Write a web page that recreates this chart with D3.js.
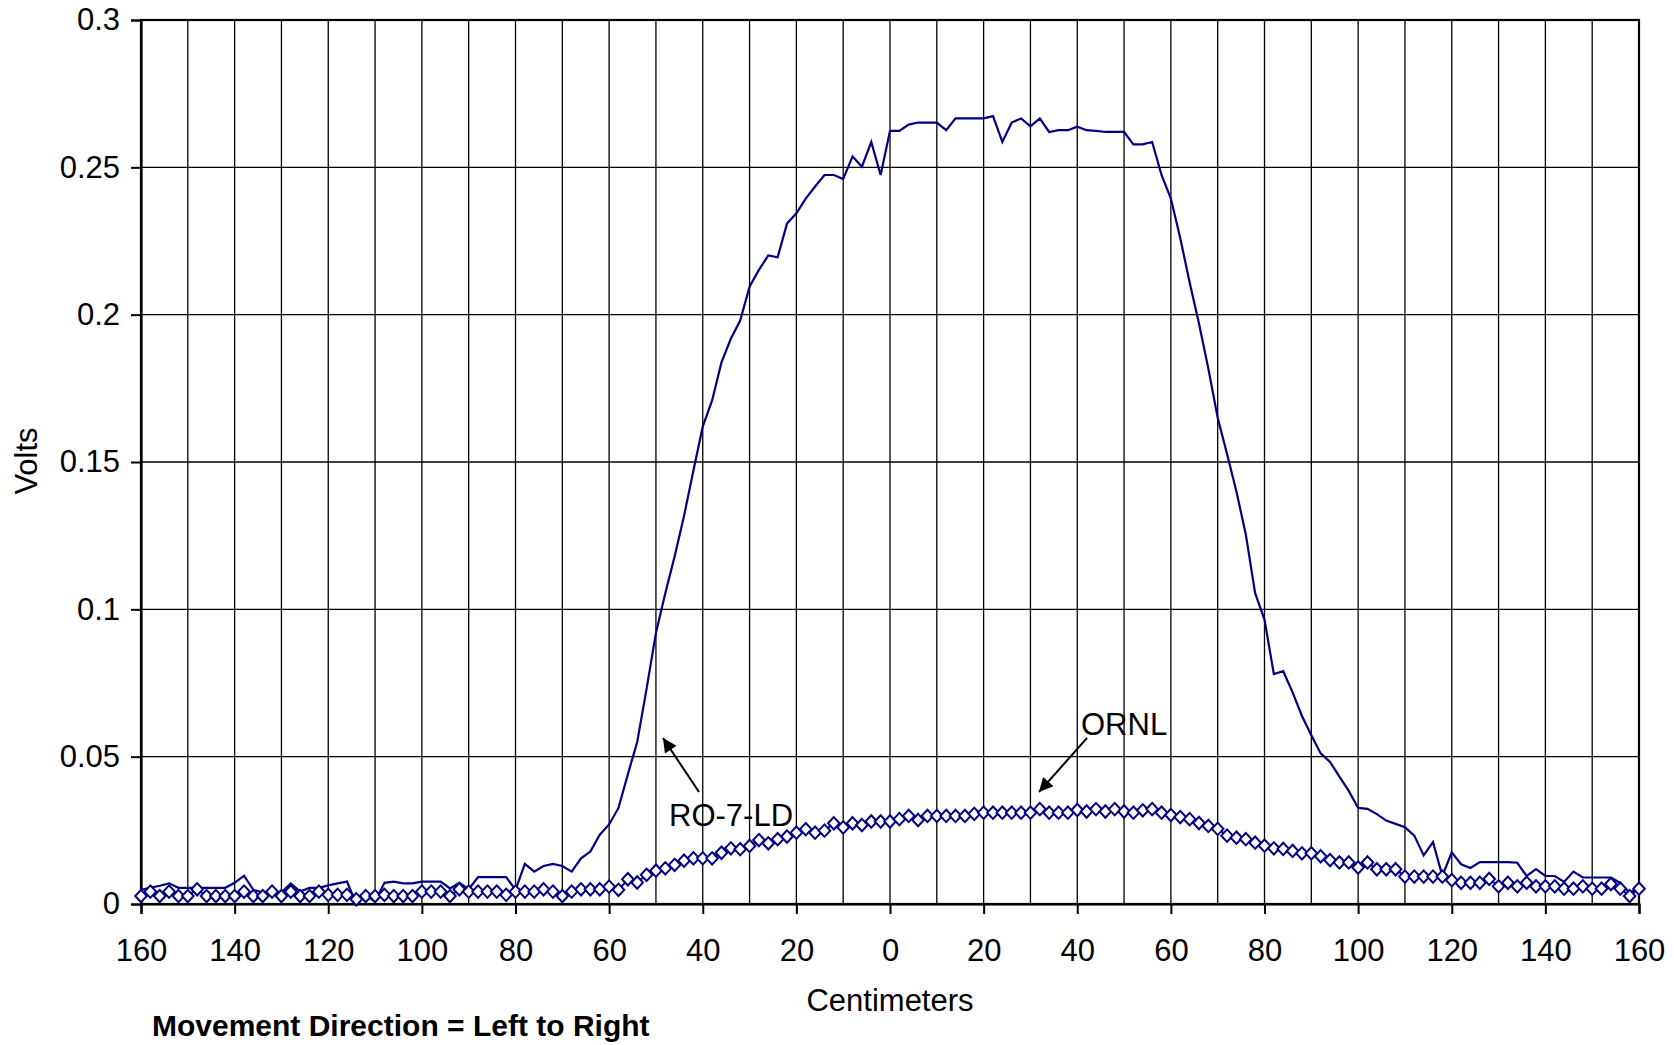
<!DOCTYPE html>
<html><head><meta charset="utf-8">
<script src="https://cdn.jsdelivr.net/npm/d3@7"></script>
<style>
body{margin:0;background:#fff}
svg text{font-family:"Liberation Sans",Arial,sans-serif;fill:#000}
</style>
</head><body>
<svg id="chart" width="1674" height="1045"></svg>
<script>
// ---- data ----
const positions = [
 -160,-158,-156,-154,-152,-150,-148,-146,-144,-142,
 -140,-138,-136,-134,-132,-130,-128,-126,-124,-122,
 -120,-118,-116,-114,-112,-110,-108,-106,-104,-102,
 -100,-98,-96,-94,-92,-90,-88,-86,-84,-82,
 -80,-78,-76,-74,-72,-70,-68,-66,-64,-62,
 -60,-58,-56,-54,-52,-50,-48,-46,-44,-42,
 -40,-38,-36,-34,-32,-30,-28,-26,-24,-22,
 -20,-18,-16,-14,-12,-10,-8,-6,-4,-2,
 0,2,4,6,8,10,12,14,16,18,
 20,22,24,26,28,30,32,34,36,38,
 40,42,44,46,48,50,52,54,56,58,
 60,62,64,66,68,70,72,74,76,78,
 80,82,84,86,88,90,92,94,96,98,
 100,102,104,106,108,110,112,114,116,118,
 120,122,124,126,128,130,132,134,136,138,
 140,142,144,146,148,150,152,154,156,158,
 160];

const ro7ld = [
 0.0048,0.0055,0.0062,0.0070,0.0055,0.0055,0.0055,0.0055,0.0055,0.0055,
 0.0072,0.0096,0.0048,0.0040,0.0045,0.0040,0.0070,0.0042,0.0055,0.0055,
 0.0063,0.0070,0.0076,0.0000,0.0030,0.0008,0.0072,0.0076,0.0070,0.0070,
 0.0076,0.0076,0.0076,0.0053,0.0072,0.0050,0.0091,0.0091,0.0091,0.0091,
 0.0048,0.0136,0.0110,0.0129,0.0136,0.0129,0.0110,0.0155,0.0178,0.0235,
 0.0270,0.0326,0.0440,0.0550,0.0730,0.0920,0.1055,0.1180,0.1317,0.1470,
 0.1620,0.1709,0.1838,0.1918,0.1980,0.2095,0.2152,0.2201,0.2195,0.2309,
 0.2344,0.2394,0.2435,0.2474,0.2474,0.2460,0.2537,0.2502,0.2586,0.2474,
 0.2624,0.2624,0.2645,0.2652,0.2652,0.2652,0.2626,0.2666,0.2666,0.2666,
 0.2666,0.2674,0.2586,0.2652,0.2666,0.2639,0.2666,0.2620,0.2626,0.2626,
 0.2638,0.2626,0.2624,0.2620,0.2620,0.2620,0.2578,0.2578,0.2586,0.2474,
 0.2394,0.2260,0.2110,0.1970,0.1817,0.1650,0.1527,0.1400,0.1255,0.1055,
 0.0965,0.0780,0.0790,0.0718,0.0638,0.0573,0.0511,0.0482,0.0432,0.0384,
 0.0326,0.0323,0.0305,0.0283,0.0272,0.0261,0.0232,0.0165,0.0210,0.0095,
 0.0175,0.0135,0.0122,0.0142,0.0142,0.0142,0.0142,0.0140,0.0095,0.0118,
 0.0095,0.0095,0.0075,0.0110,0.0090,0.0090,0.0090,0.0090,0.0072,0.0038,
 0.0055];

const ornl = [
 0.0027,0.0042,0.0027,0.0042,0.0027,0.0027,0.0050,0.0027,0.0027,0.0027,
 0.0027,0.0042,0.0027,0.0027,0.0042,0.0027,0.0042,0.0027,0.0027,0.0042,
 0.0031,0.0031,0.0031,0.0016,0.0027,0.0027,0.0031,0.0027,0.0027,0.0027,
 0.0042,0.0042,0.0042,0.0027,0.0050,0.0042,0.0042,0.0042,0.0042,0.0031,
 0.0042,0.0042,0.0042,0.0050,0.0042,0.0027,0.0042,0.0050,0.0050,0.0050,
 0.0059,0.0048,0.0084,0.0073,0.0099,0.0113,0.0121,0.0133,0.0147,0.0155,
 0.0155,0.0155,0.0174,0.0189,0.0186,0.0197,0.0217,0.0206,0.0220,0.0229,
 0.0242,0.0254,0.0242,0.0249,0.0274,0.0260,0.0274,0.0268,0.0280,0.0280,
 0.0280,0.0288,0.0299,0.0285,0.0299,0.0299,0.0299,0.0299,0.0299,0.0306,
 0.0310,0.0310,0.0310,0.0310,0.0310,0.0310,0.0322,0.0310,0.0310,0.0310,
 0.0319,0.0314,0.0322,0.0314,0.0322,0.0314,0.0310,0.0318,0.0322,0.0310,
 0.0302,0.0295,0.0288,0.0275,0.0265,0.0255,0.0232,0.0225,0.0220,0.0208,
 0.0198,0.0189,0.0187,0.0180,0.0172,0.0172,0.0162,0.0149,0.0141,0.0141,
 0.0124,0.0141,0.0118,0.0118,0.0118,0.0093,0.0093,0.0093,0.0093,0.0093,
 0.0081,0.0072,0.0072,0.0072,0.0085,0.0060,0.0072,0.0060,0.0072,0.0060,
 0.0060,0.0060,0.0052,0.0052,0.0060,0.0052,0.0052,0.0068,0.0052,0.0027,
 0.0052];

const yTicks = [0, 0.05, 0.1, 0.15, 0.2, 0.25, 0.3];
const yTickLabels = ["0", "0.05", "0.1", "0.15", "0.2", "0.25", "0.3"];
const xTicks = [-160,-140,-120,-100,-80,-60,-40,-20,0,20,40,60,80,100,120,140,160];
const xTickLabels = ["160","140","120","100","80","60","40","20","0","20","40","60","80","100","120","140","160"];
const xGrid = [-150,-140,-130,-120,-110,-100,-90,-80,-70,-60,-50,-40,-30,-20,-10,0,10,20,30,40,50,60,70,80,90,100,110,120,130,140,150];

// ---- chart ----
const W = 1674, H = 1045;
const m = {left: 141, right: 35, top: 20, bottom: 141};
const svg = d3.select("#chart");
const x = d3.scaleLinear().domain([-160, 160]).range([m.left, W - m.right]);
const y = d3.scaleLinear().domain([0, 0.3]).range([H - m.bottom, m.top]);
const navy = "#000080";
const FS = 31;

// gridlines
svg.append("g").selectAll("line").data(xGrid).join("line")
  .attr("x1", d => x(d)).attr("x2", d => x(d))
  .attr("y1", y(0)).attr("y2", y(0.3))
  .attr("stroke", "#000").attr("stroke-width", 1.3);
svg.append("g").selectAll("line").data(yTicks.slice(1, -1)).join("line")
  .attr("x1", x(-160)).attr("x2", x(160))
  .attr("y1", d => y(d)).attr("y2", d => y(d))
  .attr("stroke", "#000").attr("stroke-width", 1.3);

// frame
svg.append("rect")
  .attr("x", x(-160)).attr("y", y(0.3))
  .attr("width", x(160) - x(-160)).attr("height", y(0) - y(0.3))
  .attr("fill", "none").attr("stroke", "#000").attr("stroke-width", 2.2);

// axes
const yAxis = d3.axisLeft(y).tickValues(yTicks)
  .tickFormat((d, i) => yTickLabels[i]).tickSize(10).tickPadding(11);
const gy = svg.append("g").attr("transform", `translate(${m.left},0)`).call(yAxis);
const xAxis = d3.axisBottom(x).tickValues(xTicks)
  .tickFormat((d, i) => xTickLabels[i]).tickSize(10).tickPadding(25);
const gx = svg.append("g").attr("transform", `translate(0,${H - m.bottom})`).call(xAxis);
[gx, gy].forEach(g => {
  g.select(".domain").attr("stroke", "#000").attr("stroke-width", 2.2);
  g.selectAll(".tick line").attr("stroke", "#000").attr("stroke-width", 2);
  g.selectAll(".tick text").attr("font-size", FS)
    .attr("font-family", "'Liberation Sans', Arial, sans-serif").attr("fill", "#000");
});

// series
const ptsRO = positions.map((p, i) => [p, ro7ld[i]]);
const ptsOR = positions.map((p, i) => [p, ornl[i]]);
const line = d3.line().x(d => x(d[0])).y(d => y(d[1]));
svg.append("path").datum(ptsRO).attr("d", line)
  .attr("fill", "none").attr("stroke", navy).attr("stroke-width", 2.2)
  .attr("stroke-linejoin", "miter");
svg.append("path").datum(ptsOR).attr("d", line)
  .attr("fill", "none").attr("stroke", navy).attr("stroke-width", 2);
const dw = 5.8, dh = 6.2;
svg.append("g").selectAll("path").data(ptsOR).join("path")
  .attr("d", d => `M${x(d[0])},${y(d[1]) - dh}L${x(d[0]) + dw},${y(d[1])}L${x(d[0])},${y(d[1]) + dh}L${x(d[0]) - dw},${y(d[1])}Z`)
  .attr("fill", "#fff").attr("stroke", navy).attr("stroke-width", 2);

// titles
svg.append("text").attr("x", (x(-160) + x(160)) / 2).attr("y", 1011)
  .attr("text-anchor", "middle").attr("font-size", FS).text("Centimeters");
svg.append("text").attr("transform", "translate(37,461) rotate(-90)")
  .attr("text-anchor", "middle").attr("font-size", FS).text("Volts");
svg.append("text").attr("x", 152).attr("y", 1036)
  .attr("font-size", 30).attr("font-weight", "bold").text("Movement Direction = Left to Right");

// annotations
const defs = svg.append("defs");
defs.append("marker").attr("id", "ah").attr("viewBox", "0 0 10 10")
  .attr("refX", 10).attr("refY", 5).attr("markerWidth", 18).attr("markerHeight", 14)
  .attr("markerUnits", "userSpaceOnUse").attr("orient", "auto")
  .append("path").attr("d", "M0,0L10,5L0,10Z").attr("fill", "#000");
svg.append("line").attr("x1", 699).attr("y1", 792).attr("x2", 663).attr("y2", 738)
  .attr("stroke", "#000").attr("stroke-width", 2).attr("marker-end", "url(#ah)");
svg.append("line").attr("x1", 1087).attr("y1", 738).attr("x2", 1039).attr("y2", 792)
  .attr("stroke", "#000").attr("stroke-width", 2).attr("marker-end", "url(#ah)");
svg.append("text").attr("x", 669).attr("y", 826).attr("font-size", FS).text("RO-7-LD");
svg.append("text").attr("x", 1081).attr("y", 735).attr("font-size", FS).text("ORNL");
</script>
</body></html>
